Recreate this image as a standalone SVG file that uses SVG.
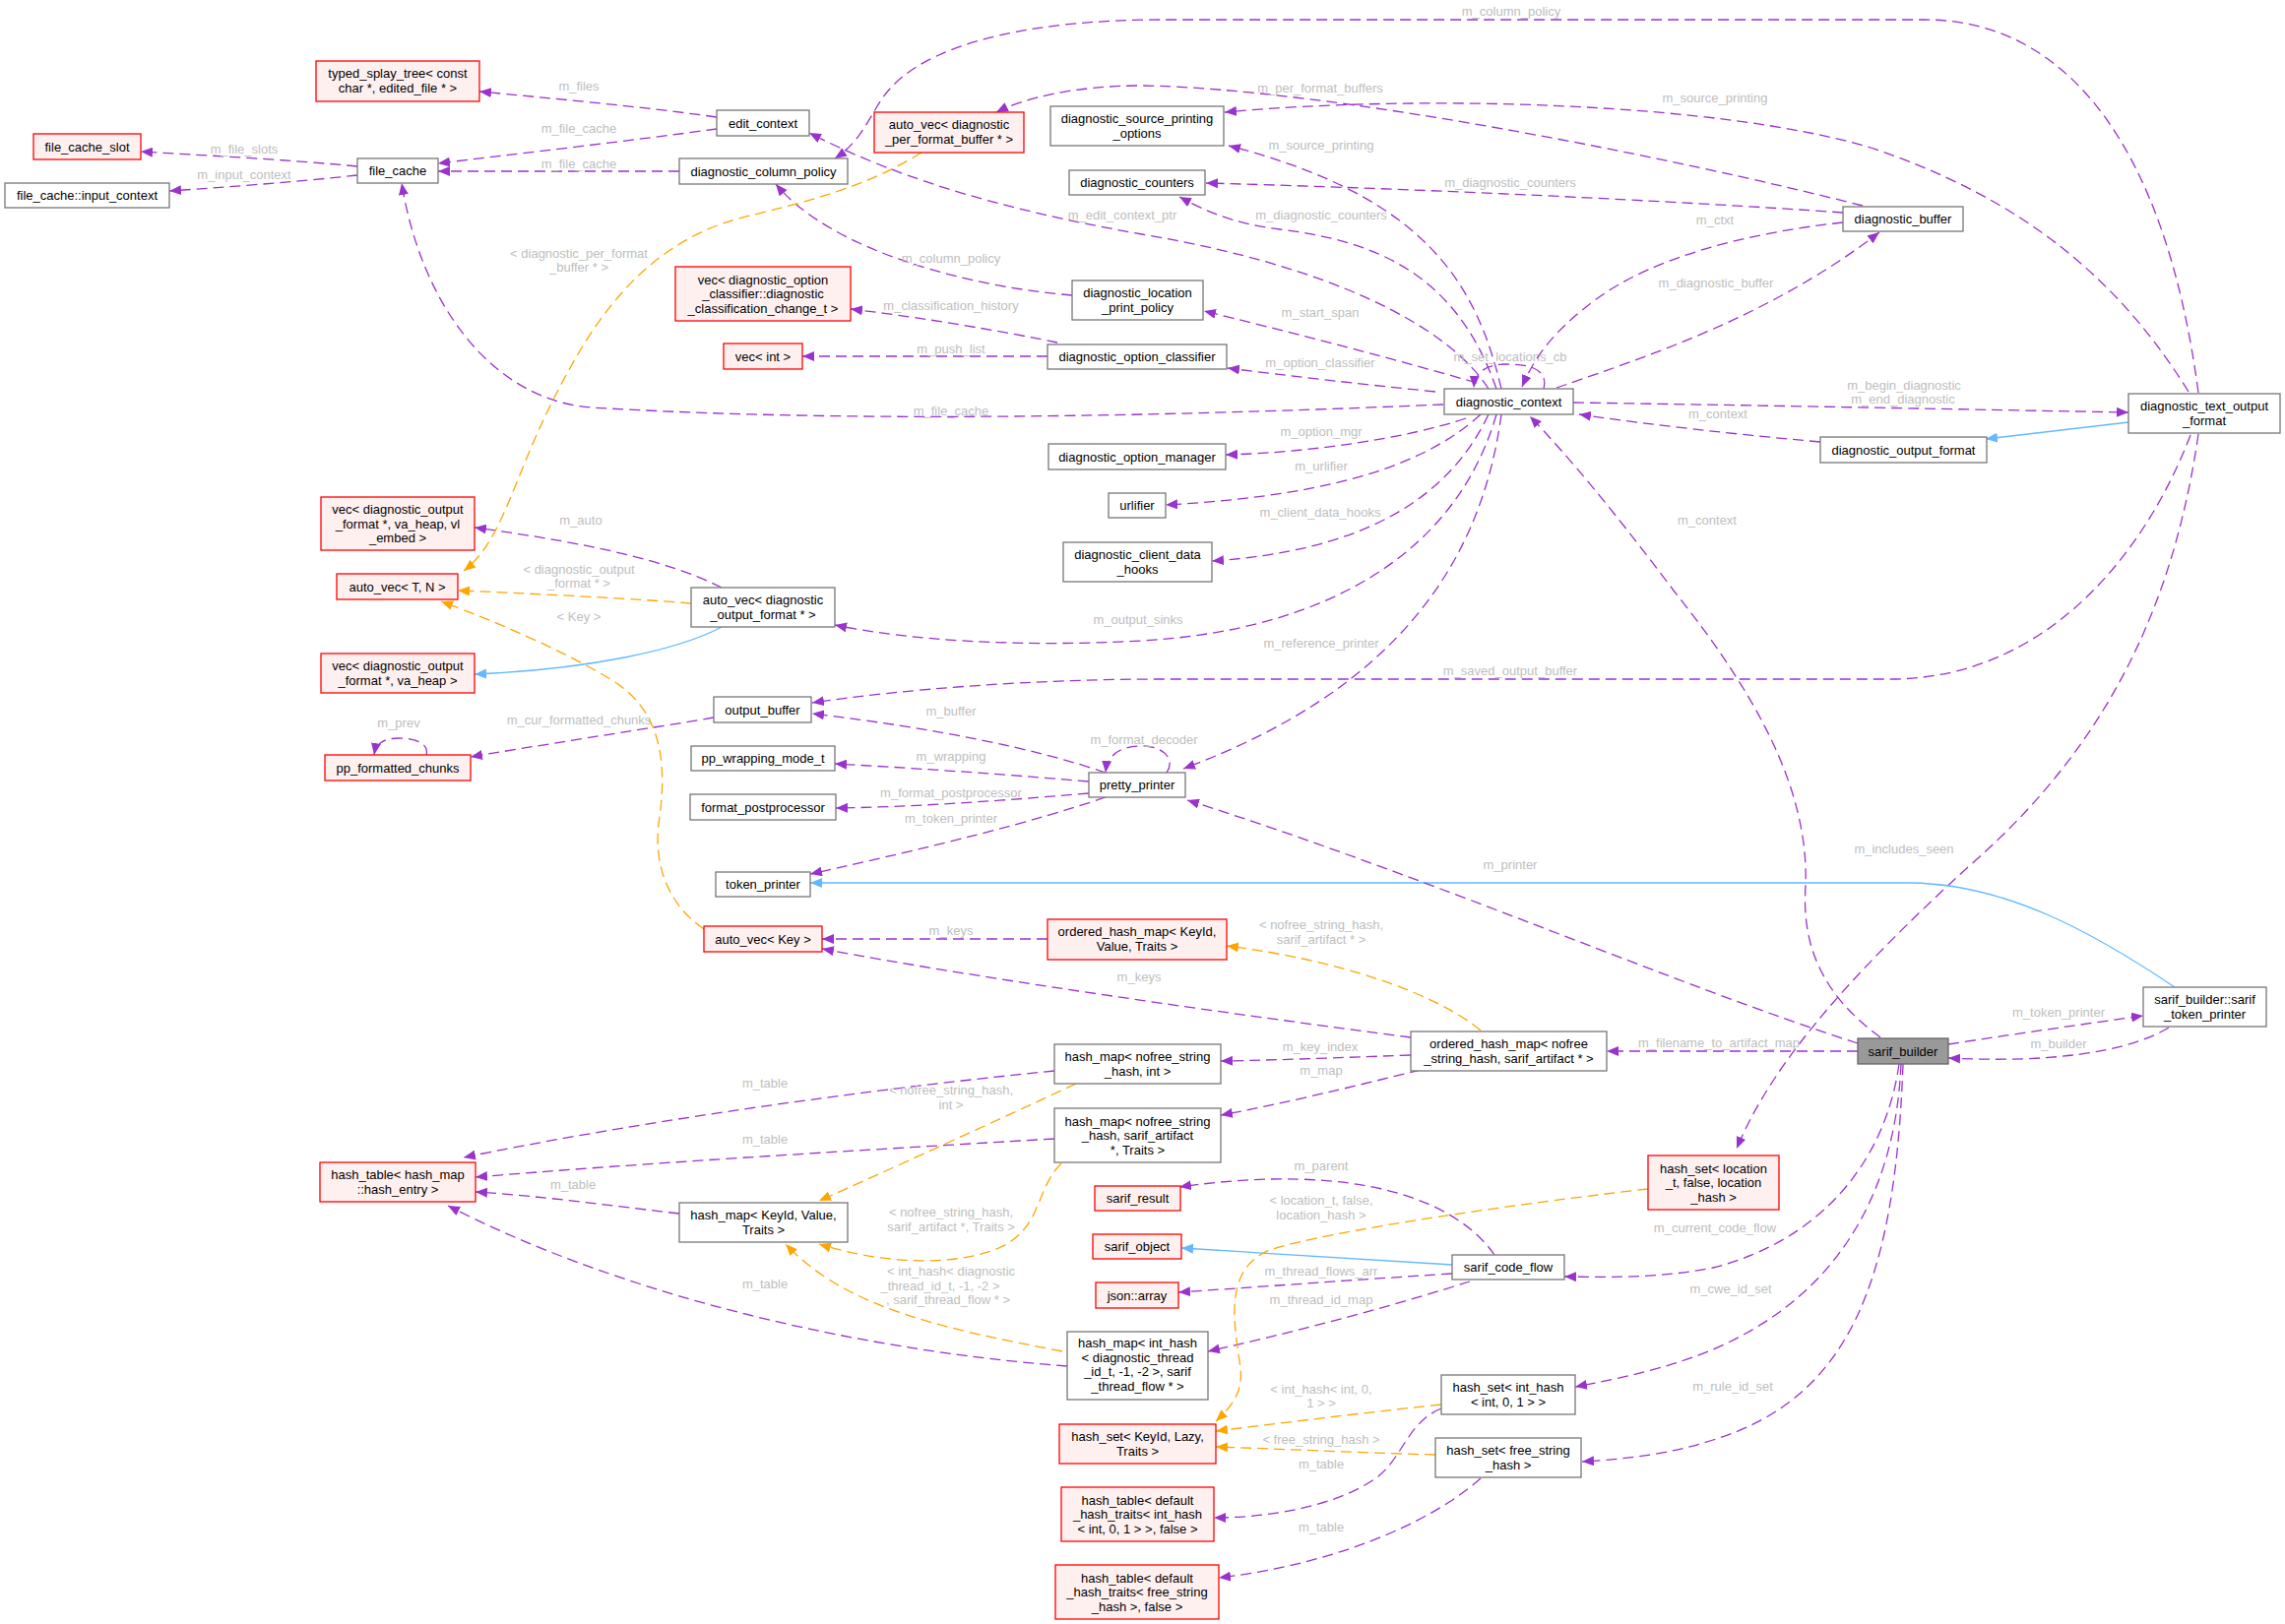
<svg xmlns="http://www.w3.org/2000/svg" width="2321" height="1650" viewBox="0 0 2321 1650">
<defs>
<style>
.g rect{fill:#fff;stroke:#777;stroke-width:1.3}
.r rect{fill:#fff0f0;stroke:#f00;stroke-width:1.3}
.s rect{fill:#999;stroke:#666;stroke-width:1.3}
text{font-family:"Liberation Sans",Arial,sans-serif;font-size:13px}
.nt{fill:#000;text-anchor:middle}
.lb{fill:#bebebe;text-anchor:middle}
.p{fill:none;stroke:#9a32cd;stroke-width:1.3;stroke-dasharray:11,6;marker-end:url(#mp)}
.o{fill:none;stroke:#ffa500;stroke-width:1.3;stroke-dasharray:11,6;marker-end:url(#mo)}
.b{fill:none;stroke:#63b8ff;stroke-width:1.3;marker-end:url(#mb)}
</style>
<marker id="mp" viewBox="0 0 12 10" refX="12" refY="5" markerWidth="12" markerHeight="10" orient="auto" markerUnits="userSpaceOnUse"><path d="M0,0L12,5L0,10z" fill="#9a32cd"/></marker>
<marker id="mo" viewBox="0 0 12 10" refX="12" refY="5" markerWidth="12" markerHeight="10" orient="auto" markerUnits="userSpaceOnUse"><path d="M0,0L12,5L0,10z" fill="#ffa500"/></marker>
<marker id="mb" viewBox="0 0 12 10" refX="12" refY="5" markerWidth="12" markerHeight="10" orient="auto" markerUnits="userSpaceOnUse"><path d="M0,0L12,5L0,10z" fill="#63b8ff"/></marker>
</defs>
<rect width="2321" height="1650" fill="#fff"/>
<g id="edges">
<path class="p" d="M728,119 C650,108 560,100 487,93"/><text class="lb" x="588" y="92">m_files</text>
<path class="p" d="M728,131 C640,143 520,157 445,166"/><text class="lb" x="588" y="135">m_file_cache</text>
<path class="p" d="M690,174 L445,174"/><text class="lb" x="588" y="171">m_file_cache</text>
<path class="p" d="M363,169 C290,162 210,158 143,154"/><text class="lb" x="248" y="156">m_file_slots</text>
<path class="p" d="M363,178 C300,185 230,190 172,194"/><text class="lb" x="248" y="182">m_input_context</text>
<path class="p" d="M1466,411 C1250,420 900,432 600,414 C500,406 428,310 408,186"/><text class="lb" x="966" y="422">m_file_cache</text>
<path class="p" d="M2233,399 C2200,150 2100,20 1955,20 L1180,20 C1060,20 950,40 905,89 C885,110 880,140 848,161"/><text class="lb" x="1535" y="16">m_column_policy</text>
<path class="p" d="M1089,300 C970,290 840,250 788,187"/><text class="lb" x="966" y="267">m_column_policy</text>
<path class="p" d="M1892,209 C1700,160 1350,90 1160,87 C1090,87 1040,100 1012,114"/><text class="lb" x="1341" y="94">m_per_format_buffers</text>
<path class="p" d="M2223,398 C2150,280 2050,200 1900,150 C1750,105 1450,95 1244,114"/><text class="lb" x="1742" y="104">m_source_printing</text>
<path class="p" d="M1525,395 C1500,290 1450,200 1248,148"/><text class="lb" x="1342" y="152">m_source_printing</text>
<path class="p" d="M1872,216 C1700,204 1450,192 1225,186"/><text class="lb" x="1534" y="190">m_diagnostic_counters</text>
<path class="p" d="M1520,395 C1480,280 1400,245 1300,233 C1250,227 1220,212 1198,200"/><text class="lb" x="1342" y="223">m_diagnostic_counters</text>
<path class="p" d="M1512,395 C1470,330 1350,270 1160,238 C1000,210 900,175 822,135"/><text class="lb" x="1140" y="223">m_edit_context_ptr</text>
<path class="p" d="M1500,389 C1400,360 1300,335 1223,316"/><text class="lb" x="1341" y="322">m_start_span</text>
<path class="p" d="M1458,398 C1380,390 1310,382 1247,374"/><text class="lb" x="1341" y="373">m_option_classifier</text>
<path class="p" d="M1568,395 C1572,378 1560,370 1530,370 C1510,370 1498,378 1497,394"/><text class="lb" x="1534" y="367">m_set_locations_cb</text>
<path class="p" d="M1489,425 C1430,445 1330,460 1245,462"/><text class="lb" x="1342" y="443">m_option_mgr</text>
<path class="p" d="M1504,421 C1440,480 1330,505 1184,513"/><text class="lb" x="1342" y="478">m_urlifier</text>
<path class="p" d="M1512,421 C1470,510 1380,560 1231,570"/><text class="lb" x="1341" y="525">m_client_data_hooks</text>
<path class="p" d="M1520,421 C1480,560 1350,640 1160,651 C1030,658 920,650 848,635"/><text class="lb" x="1156" y="634">m_output_sinks</text>
<path class="p" d="M1525,421 C1505,570 1420,700 1202,781"/><text class="lb" x="1342" y="658">m_reference_printer</text>
<path class="p" d="M1598,409 C1800,412 2000,416 2162,419"/><text class="lb" x="1934" y="396">m_begin_diagnostic</text><text class="lb" x="1933" y="410">m_end_diagnostic</text>
<path class="p" d="M1849,449 C1760,441 1680,432 1604,421"/><text class="lb" x="1745" y="425">m_context</text>
<path class="b" d="M2162,429 L2017,446"/>
<path class="p" d="M1910,1054 C1850,1010 1830,960 1834,900 C1838,800 1780,700 1700,600 C1640,520 1590,460 1554,423"/><text class="lb" x="1734" y="533">m_context</text>
<path class="p" d="M2233,441 C2210,600 2150,750 2000,880 C1880,990 1800,1080 1764,1167"/><text class="lb" x="1934" y="867">m_includes_seen</text>
<path class="p" d="M2225,442 C2180,560 2080,690 1920,690 L1180,690 C1050,690 920,700 825,714"/><text class="lb" x="1534" y="686">m_saved_output_buffer</text>
<path class="p" d="M1123,785 C1050,760 950,740 825,725"/><text class="lb" x="966" y="727">m_buffer</text>
<path class="p" d="M1185,785 C1195,770 1180,758 1160,758 C1140,758 1125,765 1123,785"/><text class="lb" x="1162" y="756">m_format_decoder</text>
<path class="p" d="M1106,794 C1000,785 920,780 848,776"/><text class="lb" x="966" y="773">m_wrapping</text>
<path class="p" d="M1106,806 C1000,815 920,820 849,821"/><text class="lb" x="966" y="810">m_format_postprocessor</text>
<path class="p" d="M1123,810 C1050,835 950,860 823,888"/><text class="lb" x="966" y="836">m_token_printer</text>
<path class="b" d="M2209,1003 C2130,950 2040,898 1940,897 L823,897"/>
<path class="p" d="M1887,1060 C1700,1000 1450,890 1206,813"/><text class="lb" x="1534" y="883">m_printer</text>
<path class="p" d="M1064,954 L835,954"/><text class="lb" x="966" y="950">m_keys</text>
<path class="p" d="M1433,1054 C1250,1030 1000,995 835,964"/><text class="lb" x="1157" y="997">m_keys</text>
<path class="o" d="M1504,1047 C1460,1010 1360,975 1246,961"/><text class="lb" x="1342" y="944">&lt; nofree_string_hash,</text><text class="lb" x="1342" y="959">sarif_artifact * &gt;</text>
<path class="p" d="M1887,1068 L1632,1068"/><text class="lb" x="1746" y="1064">m_filename_to_artifact_map</text>
<path class="p" d="M1979,1061 C2050,1050 2120,1040 2177,1032"/><text class="lb" x="2091" y="1033">m_token_printer</text>
<path class="p" d="M2203,1044 C2160,1070 2080,1080 1979,1075"/><text class="lb" x="2091" y="1065">m_builder</text>
<path class="p" d="M1433,1072 C1350,1075 1300,1077 1240,1078"/><text class="lb" x="1341" y="1068">m_key_index</text>
<path class="p" d="M1443,1087 C1370,1105 1300,1122 1240,1133"/><text class="lb" x="1342" y="1092">m_map</text>
<path class="p" d="M1071,1088 C850,1110 620,1145 471,1176"/><text class="lb" x="777" y="1105">m_table</text>
<path class="p" d="M1071,1157 C850,1170 650,1182 483,1196"/><text class="lb" x="777" y="1162">m_table</text>
<path class="p" d="M690,1233 C620,1225 550,1215 483,1211"/><text class="lb" x="582" y="1208">m_table</text>
<path class="p" d="M1084,1388 C850,1370 620,1310 455,1225"/><text class="lb" x="777" y="1309">m_table</text>
<path class="o" d="M1093,1101 C1020,1135 900,1190 832,1220"/><text class="lb" x="966" y="1112">&lt; nofree_string_hash,</text><text class="lb" x="966" y="1127">int &gt;</text>
<path class="o" d="M1078,1182 C1050,1210 1060,1250 1010,1270 C960,1288 890,1282 832,1264"/><text class="lb" x="966" y="1236">&lt; nofree_string_hash,</text><text class="lb" x="966" y="1251">sarif_artifact *, Traits &gt;</text>
<path class="o" d="M1079,1373 C960,1350 860,1330 798,1264"/><text class="lb" x="966" y="1296">&lt; int_hash&lt; diagnostic</text><text class="lb" x="955" y="1311">_thread_id_t, -1, -2 &gt;</text><text class="lb" x="963" y="1325">, sarif_thread_flow * &gt;</text>
<path class="p" d="M1518,1275 C1480,1220 1380,1180 1198,1206"/><text class="lb" x="1342" y="1189">m_parent</text>
<path class="b" d="M1475,1285 L1200,1268"/>
<path class="p" d="M1475,1294 C1380,1300 1300,1306 1197,1313"/><text class="lb" x="1342" y="1296">m_thread_flows_arr</text>
<path class="p" d="M1493,1302 C1420,1325 1330,1350 1227,1373"/><text class="lb" x="1342" y="1325">m_thread_id_map</text>
<path class="o" d="M1674,1208 C1550,1222 1350,1250 1290,1270 C1240,1290 1255,1350 1260,1390 C1263,1415 1250,1430 1235,1444"/><text class="lb" x="1342" y="1224">&lt; location_t, false,</text><text class="lb" x="1342" y="1239">location_hash &gt;</text>
<path class="o" d="M1464,1427 C1380,1436 1300,1446 1235,1454"/><text class="lb" x="1342" y="1416">&lt; int_hash&lt; int, 0,</text><text class="lb" x="1342" y="1430">1 &gt; &gt;</text>
<path class="o" d="M1458,1478 C1380,1476 1300,1472 1235,1470"/><text class="lb" x="1342" y="1467">&lt; free_string_hash &gt;</text>
<path class="p" d="M1464,1431 C1430,1445 1425,1480 1400,1500 C1360,1530 1290,1542 1233,1542"/><text class="lb" x="1342" y="1492">m_table</text>
<path class="p" d="M1504,1502 C1450,1550 1350,1590 1238,1603"/><text class="lb" x="1342" y="1556">m_table</text>
<path class="p" d="M1929,1081 C1915,1180 1850,1260 1740,1288 C1690,1298 1640,1298 1589,1297"/><text class="lb" x="1742" y="1252">m_current_code_flow</text>
<path class="p" d="M1931,1081 C1925,1220 1860,1320 1740,1371 C1700,1388 1650,1400 1600,1409"/><text class="lb" x="1758" y="1314">m_cwe_id_set</text>
<path class="p" d="M1933,1081 C1925,1300 1880,1420 1740,1463 C1700,1476 1660,1482 1607,1485"/><text class="lb" x="1760" y="1413">m_rule_id_set</text>
<path class="p" d="M733,597 C680,570 600,552 482,536"/><text class="lb" x="590" y="533">m_auto</text>
<path class="o" d="M702,613 C640,608 560,604 465,600"/><text class="lb" x="588" y="583">&lt; diagnostic_output</text><text class="lb" x="588" y="597">_format * &gt;</text>
<path class="o" d="M936,155 C880,190 820,205 750,222 C650,250 600,330 560,410 C520,490 510,550 471,580"/><text class="lb" x="588" y="262">&lt; diagnostic_per_format</text><text class="lb" x="588" y="276">_buffer * &gt;</text>
<path class="o" d="M715,944 C680,920 662,880 670,830 C678,770 670,720 620,690 C570,660 500,630 448,611"/><text class="lb" x="588" y="631">&lt; Key &gt;</text>
<path class="b" d="M733,637 C690,660 600,680 482,685"/>
<path class="p" d="M725,729 C660,740 580,752 478,769"/><text class="lb" x="588" y="736">m_cur_formatted_chunks</text>
<path class="p" d="M433,767 C436,757 425,750 405,750 C390,750 382,755 380,767"/><text class="lb" x="405" y="739">m_prev</text>
<path class="p" d="M1074,348 C1020,337 940,323 864,314"/><text class="lb" x="966" y="315">m_classification_history</text>
<path class="p" d="M1064,362 L815,362"/><text class="lb" x="966" y="359">m_push_list</text>
<path class="p" d="M1872,226 C1780,236 1680,260 1620,305 C1580,335 1560,360 1546,393"/><text class="lb" x="1742" y="228">m_ctxt</text>
<path class="p" d="M1581,394 C1680,360 1800,320 1909,236"/><text class="lb" x="1743" y="292">m_diagnostic_buffer</text>
</g>
<g id="n_typed_splay" class="r"><rect x="321" y="62" width="166" height="41"/><text class="nt" x="404" y="79">typed_splay_tree&lt; const</text><text class="nt" x="404" y="94">char *, edited_file * &gt;</text></g>
<g id="n_file_cache_slot" class="r"><rect x="34" y="136" width="109" height="26"/><text class="nt" x="88.5" y="153.5">file_cache_slot</text></g>
<g id="n_file_cache" class="g"><rect x="363" y="161" width="82" height="25"/><text class="nt" x="404" y="178">file_cache</text></g>
<g id="n_input_context" class="g"><rect x="5" y="186" width="167" height="25"/><text class="nt" x="88.5" y="203">file_cache::input_context</text></g>
<g id="n_vec_dof_embed" class="r"><rect x="326" y="505" width="156" height="54"/><text class="nt" x="404" y="522">vec&lt; diagnostic_output</text><text class="nt" x="404" y="536.5">_format *, va_heap, vl</text><text class="nt" x="404" y="551">_embed &gt;</text></g>
<g id="n_auto_vec_TN" class="r"><rect x="342" y="583" width="123" height="26"/><text class="nt" x="403.5" y="600.5">auto_vec&lt; T, N &gt;</text></g>
<g id="n_vec_dof_heap" class="r"><rect x="326" y="664" width="156" height="40"/><text class="nt" x="404" y="681">vec&lt; diagnostic_output</text><text class="nt" x="404" y="695.5">_format *, va_heap &gt;</text></g>
<g id="n_pp_formatted_chunks" class="r"><rect x="330" y="767" width="148" height="26"/><text class="nt" x="404" y="784.5">pp_formatted_chunks</text></g>
<g id="n_edit_context" class="g"><rect x="728" y="112" width="94" height="26"/><text class="nt" x="775" y="129.5">edit_context</text></g>
<g id="n_diag_column_policy" class="g"><rect x="690" y="161" width="171" height="26"/><text class="nt" x="775.5" y="178.5">diagnostic_column_policy</text></g>
<g id="n_auto_vec_pfb" class="r"><rect x="888" y="114" width="152" height="41"/><text class="nt" x="964" y="131">auto_vec&lt; diagnostic</text><text class="nt" x="964" y="146">_per_format_buffer * &gt;</text></g>
<g id="n_diag_source_printing" class="g"><rect x="1067" y="108" width="176" height="40"/><text class="nt" x="1155" y="125">diagnostic_source_printing</text><text class="nt" x="1155" y="139.5">_options</text></g>
<g id="n_diag_counters" class="g"><rect x="1086" y="173" width="138" height="25"/><text class="nt" x="1155" y="190">diagnostic_counters</text></g>
<g id="n_vec_doc" class="r"><rect x="686" y="271" width="178" height="55"/><text class="nt" x="775" y="288.5">vec&lt; diagnostic_option</text><text class="nt" x="775" y="303">_classifier::diagnostic</text><text class="nt" x="775" y="317.5">_classification_change_t &gt;</text></g>
<g id="n_vec_int" class="r"><rect x="735" y="349" width="80" height="26"/><text class="nt" x="775" y="366.5">vec&lt; int &gt;</text></g>
<g id="n_diag_location_print_policy" class="g"><rect x="1089" y="285" width="133" height="40"/><text class="nt" x="1155.5" y="302">diagnostic_location</text><text class="nt" x="1155.5" y="316.5">_print_policy</text></g>
<g id="n_diag_option_classifier" class="g"><rect x="1064" y="350" width="182" height="25"/><text class="nt" x="1155" y="367">diagnostic_option_classifier</text></g>
<g id="n_diag_option_manager" class="g"><rect x="1065" y="451" width="180" height="26"/><text class="nt" x="1155" y="468.5">diagnostic_option_manager</text></g>
<g id="n_urlifier" class="g"><rect x="1126" y="501" width="58" height="25"/><text class="nt" x="1155" y="518">urlifier</text></g>
<g id="n_diag_client_data_hooks" class="g"><rect x="1080" y="551" width="151" height="40"/><text class="nt" x="1155.5" y="568">diagnostic_client_data</text><text class="nt" x="1155.5" y="582.5">_hooks</text></g>
<g id="n_diag_context" class="g"><rect x="1467" y="395" width="131" height="26"/><text class="nt" x="1532.5" y="412.5">diagnostic_context</text></g>
<g id="n_diag_buffer" class="g"><rect x="1872" y="210" width="122" height="25"/><text class="nt" x="1933" y="227">diagnostic_buffer</text></g>
<g id="n_diag_text_output_format" class="g"><rect x="2162" y="400" width="154" height="40"/><text class="nt" x="2239" y="417">diagnostic_text_output</text><text class="nt" x="2239" y="431.5">_format</text></g>
<g id="n_diag_output_format" class="g"><rect x="1849" y="444" width="169" height="26"/><text class="nt" x="1933.5" y="461.5">diagnostic_output_format</text></g>
<g id="n_auto_vec_dof" class="g"><rect x="702" y="597" width="146" height="40"/><text class="nt" x="775" y="614">auto_vec&lt; diagnostic</text><text class="nt" x="775" y="628.5">_output_format * &gt;</text></g>
<g id="n_output_buffer" class="g"><rect x="725" y="708" width="99" height="26"/><text class="nt" x="774.5" y="725.5">output_buffer</text></g>
<g id="n_pp_wrapping_mode" class="g"><rect x="702" y="758" width="146" height="25"/><text class="nt" x="775" y="775">pp_wrapping_mode_t</text></g>
<g id="n_format_postprocessor" class="g"><rect x="701" y="807" width="148" height="26"/><text class="nt" x="775" y="824.5">format_postprocessor</text></g>
<g id="n_token_printer" class="g"><rect x="727" y="886" width="96" height="25"/><text class="nt" x="775" y="903">token_printer</text></g>
<g id="n_auto_vec_key" class="r"><rect x="715" y="941" width="120" height="26"/><text class="nt" x="775" y="958.5">auto_vec&lt; Key &gt;</text></g>
<g id="n_ohm_keyid" class="r"><rect x="1064" y="934" width="182" height="41"/><text class="nt" x="1155" y="951">ordered_hash_map&lt; KeyId,</text><text class="nt" x="1155" y="966">Value, Traits &gt;</text></g>
<g id="n_pretty_printer" class="g"><rect x="1106" y="785" width="98" height="25"/><text class="nt" x="1155" y="802">pretty_printer</text></g>
<g id="n_hm_nofree_int" class="g"><rect x="1071" y="1061" width="169" height="40"/><text class="nt" x="1155.5" y="1078">hash_map&lt; nofree_string</text><text class="nt" x="1155.5" y="1092.5">_hash, int &gt;</text></g>
<g id="n_ohm_nofree" class="g"><rect x="1433" y="1048" width="199" height="40"/><text class="nt" x="1532.5" y="1065">ordered_hash_map&lt; nofree</text><text class="nt" x="1532.5" y="1079.5">_string_hash, sarif_artifact * &gt;</text></g>
<g id="n_sarif_token_printer" class="g"><rect x="2177" y="1003" width="125" height="40"/><text class="nt" x="2239.5" y="1020">sarif_builder::sarif</text><text class="nt" x="2239.5" y="1034.5">_token_printer</text></g>
<g id="n_sarif_builder" class="s"><rect x="1887" y="1055" width="92" height="26"/><text class="nt" x="1933" y="1072.5">sarif_builder</text></g>
<g id="n_hm_nofree_sarif" class="g"><rect x="1071" y="1126" width="169" height="55"/><text class="nt" x="1155.5" y="1143.5">hash_map&lt; nofree_string</text><text class="nt" x="1155.5" y="1158">_hash, sarif_artifact</text><text class="nt" x="1155.5" y="1172.5">*, Traits &gt;</text></g>
<g id="n_hm_keyid" class="g"><rect x="690" y="1222" width="171" height="40"/><text class="nt" x="775.5" y="1239">hash_map&lt; KeyId, Value,</text><text class="nt" x="775.5" y="1253.5">Traits &gt;</text></g>
<g id="n_sarif_result" class="r"><rect x="1112" y="1205" width="87" height="25"/><text class="nt" x="1155.5" y="1222">sarif_result</text></g>
<g id="n_sarif_object" class="r"><rect x="1110" y="1254" width="90" height="25"/><text class="nt" x="1155" y="1271">sarif_object</text></g>
<g id="n_json_array" class="r"><rect x="1113" y="1303" width="84" height="26"/><text class="nt" x="1155" y="1320.5">json::array</text></g>
<g id="n_hm_int_hash" class="g"><rect x="1084" y="1353" width="143" height="69"/><text class="nt" x="1155.5" y="1369">hash_map&lt; int_hash</text><text class="nt" x="1155.5" y="1383.5">&lt; diagnostic_thread</text><text class="nt" x="1155.5" y="1398">_id_t, -1, -2 &gt;, sarif</text><text class="nt" x="1155.5" y="1412.5">_thread_flow * &gt;</text></g>
<g id="n_hs_keyid" class="r"><rect x="1076" y="1447" width="159" height="40"/><text class="nt" x="1155.5" y="1464">hash_set&lt; KeyId, Lazy,</text><text class="nt" x="1155.5" y="1478.5">Traits &gt;</text></g>
<g id="n_ht_int_hash" class="r"><rect x="1078" y="1511" width="155" height="55"/><text class="nt" x="1155.5" y="1528.5">hash_table&lt; default</text><text class="nt" x="1155.5" y="1543">_hash_traits&lt; int_hash</text><text class="nt" x="1155.5" y="1557.5">&lt; int, 0, 1 &gt; &gt;, false &gt;</text></g>
<g id="n_ht_free_string" class="r"><rect x="1072" y="1590" width="166" height="55"/><text class="nt" x="1155" y="1607.5">hash_table&lt; default</text><text class="nt" x="1155" y="1622">_hash_traits&lt; free_string</text><text class="nt" x="1155" y="1636.5">_hash &gt;, false &gt;</text></g>
<g id="n_ht_hash_entry" class="r"><rect x="325" y="1181" width="158" height="40"/><text class="nt" x="404" y="1198">hash_table&lt; hash_map</text><text class="nt" x="404" y="1212.5">::hash_entry &gt;</text></g>
<g id="n_hs_location" class="r"><rect x="1674" y="1174" width="133" height="55"/><text class="nt" x="1740.5" y="1191.5">hash_set&lt; location</text><text class="nt" x="1740.5" y="1206">_t, false, location</text><text class="nt" x="1740.5" y="1220.5">_hash &gt;</text></g>
<g id="n_sarif_code_flow" class="g"><rect x="1475" y="1275" width="114" height="25"/><text class="nt" x="1532" y="1292">sarif_code_flow</text></g>
<g id="n_hs_int_hash" class="g"><rect x="1464" y="1397" width="136" height="40"/><text class="nt" x="1532" y="1414">hash_set&lt; int_hash</text><text class="nt" x="1532" y="1428.5">&lt; int, 0, 1 &gt; &gt;</text></g>
<g id="n_hs_free_string" class="g"><rect x="1458" y="1461" width="148" height="40"/><text class="nt" x="1532" y="1478">hash_set&lt; free_string</text><text class="nt" x="1532" y="1492.5">_hash &gt;</text></g>
</svg>
